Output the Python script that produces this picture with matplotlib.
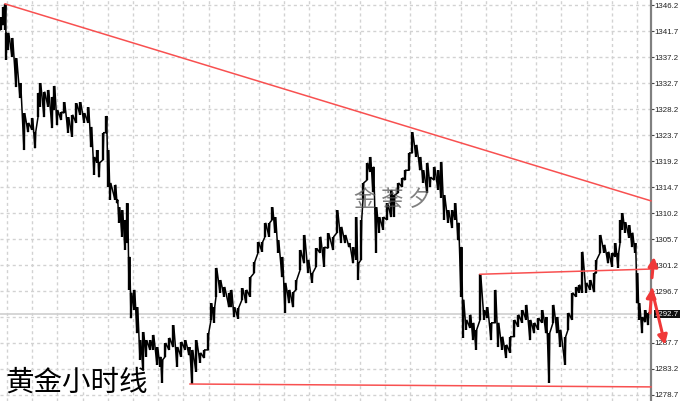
import matplotlib
matplotlib.use("Agg")
import matplotlib.pyplot as plt

plt.rcParams['font.family'] = ['Noto Sans CJK SC', 'DejaVu Sans']

hours = [0,1,3,5,6,8,12,16,20,24,28,32,35,38,40,44,48,52,54,57,61,64,68,72,76,80,84,88,91,94,97,99,103,106,108,110,115,117,119,122,125,127,129,131,134,137,140,143,146,150,153,157,160,162,165,169,173,177,181,185,189,192,196,200,204,208,211,214,216,220,224,229,231,234,238,242,246,250,254,258,262,265,269,272,275,278,282,285,289,293,296,300,304,308,312,316,320,324,328,333,337,341,345,349,353,356,358,361,363,367,370,373,376,379,383,387,391,394,398,402,405,409,412,416,420,423,427,430,434,438,441,444,448,452,455,458,461,463,466,470,473,476,480,484,487,491,495,498,502,506,510,514,518,522,526,530,534,538,542,546,549,553,557,560,565,568,572,576,579,582,586,590,594,596,600,604,608,612,615,618,620,622,625,629,632,635,637,639,642,645,648]
highs = [1344.1,1344.0,1345.9,1346.4,1341.4,1341.4,1340.5,1337.0,1332.7,1327.5,1325.8,1326.6,1324.2,1331.0,1332.7,1331.2,1331.5,1330.3,1332.2,1328.0,1327.7,1329.4,1326.8,1327.2,1329.2,1329.4,1327.5,1328.5,1325.1,1319.9,1321.1,1318.9,1324.1,1327.0,1321.1,1315.4,1315.1,1312.5,1311.2,1310.7,1309.0,1311.9,1302.6,1296.4,1296.9,1293.9,1288.2,1289.6,1288.2,1288.2,1289.1,1287.0,1285.3,1284.8,1287.7,1288.6,1290.8,1287.0,1287.9,1288.2,1287.0,1286.5,1288.2,1286.0,1286.5,1289.4,1294.6,1293.9,1300.7,1298.6,1297.4,1296.4,1296.9,1293.9,1293.8,1297.2,1296.9,1299.1,1301.7,1305.2,1305.2,1308.5,1308.5,1311.2,1309.5,1305.5,1302.6,1298.1,1296.9,1296.5,1298.6,1303.8,1306.4,1302.1,1299.8,1304.1,1306.1,1304.3,1306.7,1306.1,1310.7,1307.8,1306.4,1305.0,1304.3,1309.5,1301.5,1309.0,1315.4,1318.9,1319.9,1318.2,1311.2,1309.5,1309.5,1311.9,1314.2,1313.3,1315.4,1316.3,1317.6,1320.6,1324.2,1322.0,1319.9,1317.6,1318.9,1316.4,1318.2,1317.6,1319.0,1313.3,1310.7,1310.7,1311.9,1308.5,1304.3,1295.2,1291.7,1292.6,1291.2,1290.0,1299.6,1293.4,1293.9,1291.2,1296.9,1291.2,1288.8,1287.4,1288.8,1291.7,1292.6,1293.4,1294.3,1291.7,1291.2,1292.0,1293.4,1292.2,1289.4,1294.3,1292.2,1290.0,1288.8,1292.9,1296.4,1297.4,1297.8,1303.5,1298.1,1298.6,1299.8,1302.1,1306.4,1304.7,1303.5,1303.3,1305.0,1303.3,1309.0,1310.2,1308.6,1308.1,1306.8,1305.0,1299.8,1294.6,1292.2,1293.4,1292.9]
lows = [1341.9,1341.9,1342.7,1341.9,1336.7,1338.4,1337.2,1332.0,1330.1,1321.1,1324.2,1324.6,1321.4,1326.8,1328.6,1326.8,1328.6,1324.9,1328.0,1325.4,1326.3,1327.5,1324.1,1323.4,1325.8,1327.2,1325.8,1325.8,1321.6,1316.8,1318.9,1316.4,1319.4,1324.1,1314.7,1312.5,1312.5,1311.9,1308.5,1306.1,1303.8,1305.0,1296.9,1292.0,1293.4,1289.4,1284.8,1283.0,1285.3,1286.5,1286.5,1283.9,1283.6,1280.8,1285.3,1286.5,1287.0,1283.6,1285.3,1286.5,1285.6,1280.6,1282.7,1284.3,1285.1,1286.5,1291.7,1291.2,1295.7,1296.4,1295.7,1293.9,1293.9,1292.2,1291.9,1295.2,1294.6,1295.7,1299.8,1303.3,1303.5,1306.1,1306.1,1309.0,1306.8,1303.3,1299.1,1292.9,1294.6,1293.9,1296.9,1300.3,1301.5,1299.8,1298.1,1300.9,1303.3,1300.9,1304.1,1303.8,1306.8,1305.0,1305.0,1304.3,1301.5,1302.1,1298.6,1302.1,1312.5,1315.9,1317.3,1313.8,1303.3,1306.8,1307.3,1309.0,1309.5,1309.5,1313.7,1314.7,1315.9,1317.6,1320.6,1319.9,1317.6,1315.4,1313.7,1314.7,1315.9,1314.2,1312.8,1309.0,1308.5,1307.6,1309.0,1305.5,1295.7,1288.6,1290.0,1290.3,1288.2,1286.5,1291.7,1291.7,1292.0,1288.2,1291.2,1287.0,1286.5,1285.1,1286.0,1288.8,1290.5,1291.2,1291.7,1288.2,1289.4,1290.0,1291.2,1289.4,1280.8,1291.2,1289.4,1287.0,1283.9,1290.0,1291.7,1295.7,1296.4,1296.4,1296.4,1296.9,1296.5,1299.8,1303.3,1303.3,1301.5,1300.9,1302.6,1300.7,1305.0,1307.3,1306.8,1305.9,1304.3,1303.3,1294.6,1291.7,1289.4,1291.3,1290.8]

price_ticks = [1346.2,1341.7,1337.2,1332.7,1328.2,1323.7,1319.2,1314.7,1310.2,1305.7,1301.2,1296.7,1287.7,1283.2,1278.7]
grid_prices = [1346.2,1341.7,1337.2,1332.7,1328.2,1323.7,1319.2,1314.7,1310.2,1305.7,1301.2,1296.7,1292.2,1287.7,1283.2,1278.7]
time_grid = [7,32.2,57.4,82.6,107.8,133,158.2,183.4,208.6,233.8,259,284.2,309.4,334.6,359.8,385,410.2,435.4,460.6,485.8,511,536.2,561.4,586.6,611.8,637]
current_price = 1292.7

trend_down = ([5,651],[1346.4,1312.3])
support = ([190,651],[1280.6,1280.1])
neckline = ([480,651],[1299.6,1300.5])
arrows = [((652,1299.0),(654,1302.6)),((650,1292.9),(652,1297.2)),((652,1296.9),(665,1287.4))]

title = "黄金小时线"
watermark = "金 荟 夕"

W, H = 680, 401
fig = plt.figure(figsize=(W/100, H/100), dpi=100, facecolor='white')
ax = fig.add_axes([0, 0, 651/W, 1])
ax.set_xlim(0, 651)
ax.set_ylim(1277.66, 1347.07)

for g in grid_prices:
    ax.axhline(g, color='#d2d2d2', lw=1, ls=(0, (2.2, 2.2)), zorder=1)
for t in time_grid:
    ax.axvline(t, color='#d2d2d2', lw=1, ls=(0, (2.2, 2.2)), zorder=1)
ax.axhline(current_price, color='#d0d0d0', lw=1.2, zorder=1.5)

xs, ys = [], []
for h, hi, lo in zip(hours, highs, lows):
    xs += [h, h + 0.7]
    ys += [lo, hi]
ax.plot(xs, ys, color='black', lw=1.1, solid_joinstyle='miter', zorder=3)
ax.vlines(hours, lows, highs, color='black', lw=1.7, zorder=3)

red = '#f85050'
ax.plot(*trend_down, color=red, lw=1.1, zorder=4, clip_on=False)
ax.plot(*support, color=red, lw=1.1, zorder=4, clip_on=False)
ax.plot(*neckline, color=red, lw=1.1, zorder=4, clip_on=False)
for tail, tip in arrows:
    ax.annotate('', xy=tip, xytext=tail, annotation_clip=False, zorder=6,
                arrowprops=dict(arrowstyle='-|>,head_width=0.28,head_length=0.55',
                                color='#f03838', lw=2.2, shrinkA=0, shrinkB=0))

for s in ['top', 'left', 'bottom']:
    ax.spines[s].set_visible(False)
ax.spines['right'].set_color('#808080')
ax.spines['right'].set_linewidth(1.6)
ax.yaxis.tick_right()
ax.set_xticks([])
ax.set_yticks(price_ticks)
ax.set_yticklabels([f"{p:.1f}" for p in price_ticks], fontsize=5.7,
                   family=['Liberation Sans'], color='#222222')
ax.tick_params(axis='y', length=2, width=0.8, color='#444444', pad=0.7)

ax.text(654.8, current_price, f"{current_price:.1f}", fontsize=5.7, family=['Liberation Sans'],
        color='white', va='center', ha='left', zorder=5, clip_on=False,
        bbox=dict(boxstyle='square,pad=0.1', fc='#111111', ec='none'))

ax.text(5, 1280.8, title, fontsize=20.5, color='black', va='center', ha='left', zorder=8)
ax.text(392, 1312.6, watermark, fontsize=16, color='#555555', alpha=0.75, va='center', ha='center', zorder=5)

fig.savefig('out.png', dpi=100)
